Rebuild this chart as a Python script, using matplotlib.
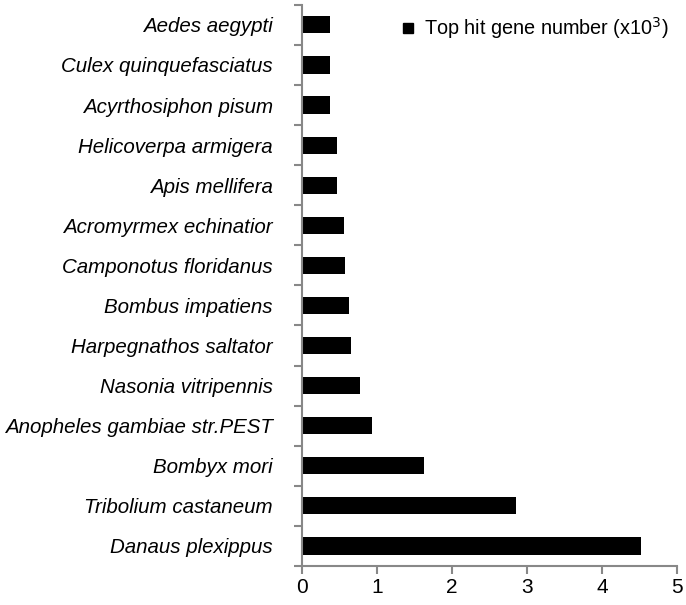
import matplotlib
matplotlib.use('Agg')
import matplotlib.pyplot as plt
import numpy as np
from matplotlib.lines import Line2D

plt.rcParams['font.family'] = 'Liberation Sans'

# Species, top to bottom as drawn
species = ['Aedes aegypti', 'Culex quinquefasciatus', 'Acyrthosiphon pisum',
           'Helicoverpa armigera', 'Apis mellifera', 'Acromyrmex echinatior',
           'Camponotus floridanus', 'Bombus impatiens', 'Harpegnathos saltator',
           'Nasonia vitripennis', 'Anopheles gambiae str.PEST', 'Bombyx mori',
           'Tribolium castaneum', 'Danaus plexippus']
# Top hit gene number (x10^3)
top_hits = [0.38, 0.38, 0.38, 0.47, 0.47, 0.56, 0.58, 0.63, 0.65, 0.77,
            0.93, 1.63, 2.85, 4.52]
x_ticks = [0, 1, 2, 3, 4, 5]

fig = plt.figure(figsize=(6.86, 6.05), dpi=100)
ax = fig.add_axes([0.440, 0.0645, 0.547, 0.9275])

y = np.arange(len(species))[::-1]
ax.barh(y, top_hits, height=0.43, color='black')

ax.set_ylim(-0.5, len(species) - 0.5)
ax.set_xlim(0, 5)
ax.set_xticks(x_ticks)
ax.set_xticklabels([str(t) for t in x_ticks], fontsize=15)

ax.set_yticks(y)
ax.set_yticklabels(species, fontsize=14.8, style='italic')
ax.set_yticks(np.arange(-0.5, len(species)), minor=True)
ax.tick_params(axis='y', which='major', length=0, pad=21)
ax.tick_params(axis='y', which='minor', length=6, width=1.5, color='#888888', direction='out')
ax.tick_params(axis='x', length=6, width=1.5, color='#888888', direction='out', pad=3)

for s in ['top', 'right']:
    ax.spines[s].set_visible(False)
for s in ['left', 'bottom']:
    ax.spines[s].set_color('#888888')
    ax.spines[s].set_linewidth(1.5)

handle = Line2D([], [], marker='s', color='black', linestyle='none', markersize=6.5)
ax.legend([handle], ['Top hit gene number (x10$^{3}$)'], loc='upper right',
          frameon=False, fontsize=14.3, handlelength=1.0, handletextpad=0.3,
          borderaxespad=0.1, bbox_to_anchor=(1.005, 1.0))

fig.savefig('out.png', dpi=100)
